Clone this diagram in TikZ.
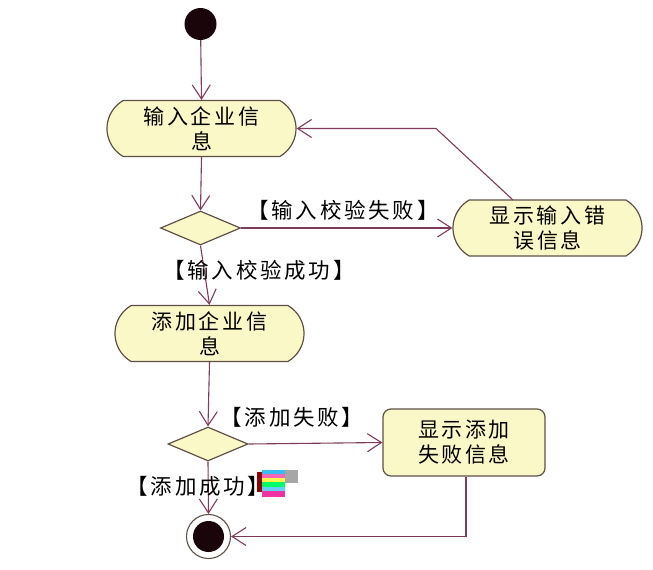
\documentclass[tikz,border=0pt]{standalone}
\usepackage{fontspec}
\newfontfamily\cjkbox[LetterSpace=12]{Noto Sans CJK SC}
\newfontfamily\cjklbl[LetterSpace=13]{Noto Sans CJK SC}
\usetikzlibrary{arrows.meta,shapes.geometric,shapes.misc}
\definecolor{fillcol}{RGB}{251,248,200}
\definecolor{boxcol}{RGB}{95,80,70}
\definecolor{linecol}{RGB}{125,60,90}
\definecolor{dotcol}{RGB}{25,5,10}
\begin{document}
\begin{tikzpicture}[x=1pt,y=-1pt,
  act/.style={rounded rectangle, rounded rectangle arc length=120,
    draw=boxcol, fill=fillcol, line width=1.2pt,
    minimum width=189pt, minimum height=56pt, inner sep=0pt, align=center,
    font=\cjkbox\fontsize{21}{25}\selectfont},
  rbox/.style={draw=boxcol, fill=fillcol, line width=1.2pt, rounded corners=8pt,
    minimum width=162pt, minimum height=67pt, inner sep=0pt, align=center,
    font=\cjkbox\fontsize{21}{25}\selectfont},
  dec/.style={diamond, draw=boxcol, fill=fillcol, line width=1.2pt, aspect=2.35,
    minimum width=80pt, minimum height=34pt, inner sep=0pt},
  flow/.style={draw=linecol, line width=1.1pt, -{Straight Barb[length=14pt,width=18pt]}},
  lbl/.style={font=\cjklbl\fontsize{21.5}{22}\selectfont, inner sep=0pt}]
\useasboundingbox (0,0) rectangle (653,570);
\fill[white] (0,0) rectangle (653,570);

\node[circle, fill=dotcol, minimum size=32pt, inner sep=0pt] (start) at (200.5,24) {};
\node[act] (b1) at (201.5,128.5) {输入企业信\\息};
\node[dec] (d1) at (200.5,228) {};
\node[act] (b2) at (547.5,228) {显示输入错\\误信息};
\node[act] (b3) at (209.5,333.5) {添加企业信\\息};
\node[dec] (d2) at (208,444) {};
\node[rbox] (b4) at (464,442.5) {显示添加\\失败信息};
\node[circle, draw=boxcol, fill=white, line width=1.1pt, minimum size=44pt, inner sep=0pt] (end) at (208.5,536.5) {};
\node[circle, fill=dotcol, minimum size=31pt, inner sep=0pt] (endin) at (end.center) {};

\coordinate (bend) at (436,128.5);
\coordinate (b2top) at (513,200);

\draw[flow] (start) -- (b1.north);
\draw[flow] (b1.south) -- (d1.north);
\draw[flow] (d1.east) -- (b2.west);
\draw[flow] (b2top) -- (bend) -- (b1.east);
\draw[flow] (d1.south) -- (b3.north);
\draw[flow] (b3.south) -- (d2.north);
\draw[flow] (d2.east) -- (b4.west);
\draw[flow] (d2.south) -- (end.north);
\draw[flow] ([xshift=2pt]b4.south) |- (end.east);

\node[lbl] (l1) at (343,210) {【输入校验失败】};
\node[lbl] (l2) at (259,270) {【输入校验成功】};
\node[lbl] (l3) at (292,417) {【添加失败】};
\node[lbl] (l4) at (198,486) {【添加成功】};

% scan artifact
\fill[red!55!black] (257,472) rectangle (262,492);
\fill[cyan!80] (262,470) rectangle (285,474);
\fill[magenta!60] (262,474) rectangle (285,478);
\fill[yellow!70] (262,478) rectangle (285,482);
\fill[green!60!cyan] (262,482) rectangle (285,487);
\fill[cyan!60] (262,487) rectangle (285,491);
\fill[magenta!80] (262,491) rectangle (285,497);
\fill[black!35] (285,470) rectangle (298,483);
\end{tikzpicture}
\end{document}
